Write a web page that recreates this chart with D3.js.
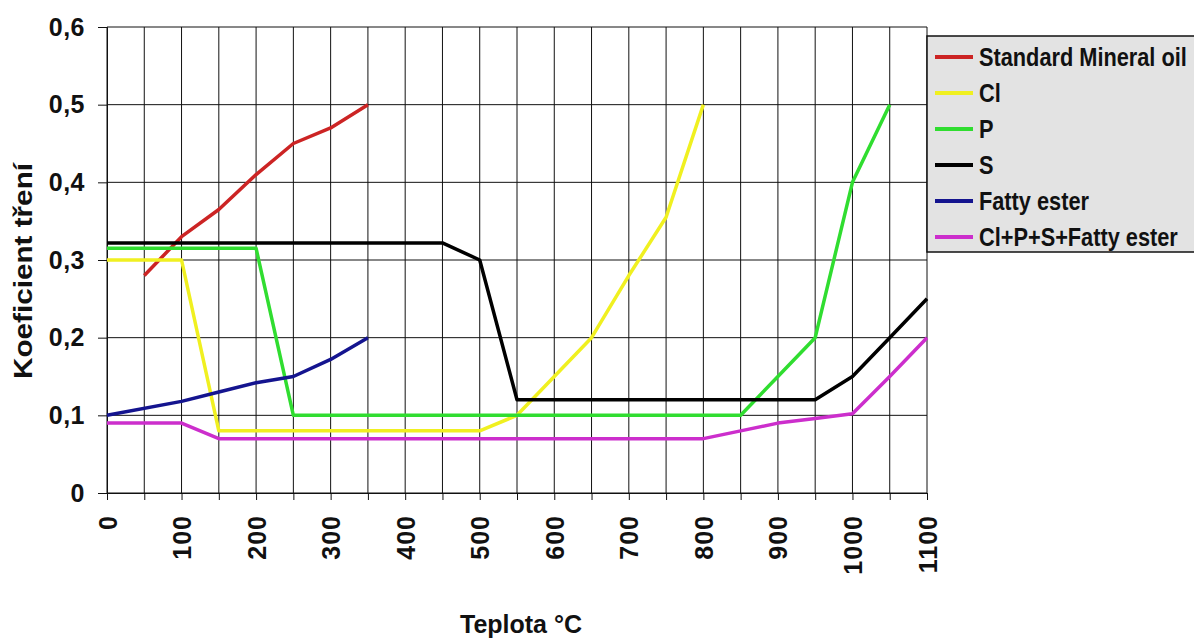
<!DOCTYPE html>
<html>
<head>
<meta charset="utf-8">
<script src="https://cdn.jsdelivr.net/npm/d3@7"></script>
<style>
  body { margin: 0; background: #fff; }
  text { font-family: "Liberation Sans", Arial, sans-serif; font-weight: bold; fill: #111; }
</style>
</head>
<body>
<div id="chart"></div>
<script>
// series data: [temperature °C, friction coefficient]
const mineralOil = [[50,0.28],[100,0.33],[150,0.365],[200,0.41],[250,0.45],[300,0.47],[350,0.5]];
const chlorine   = [[0,0.3],[100,0.3],[150,0.08],[500,0.08],[550,0.1],[600,0.15],[650,0.2],[700,0.28],[750,0.355],[800,0.5]];
const phosphorus = [[0,0.315],[200,0.315],[250,0.1],[850,0.1],[900,0.15],[950,0.2],[1000,0.4],[1050,0.5]];
const sulphur    = [[0,0.322],[450,0.322],[500,0.3],[550,0.12],[950,0.12],[1000,0.15],[1050,0.2],[1100,0.25]];
const fattyEster = [[0,0.1],[100,0.118],[150,0.13],[200,0.142],[250,0.15],[300,0.172],[350,0.2]];
const combined   = [[0,0.09],[100,0.09],[150,0.07],[800,0.07],[850,0.08],[900,0.09],[950,0.096],[1000,0.102],[1050,0.15],[1100,0.2]];

const seriesNames = ["Standard Mineral oil","Cl","P","S","Fatty ester","Cl+P+S+Fatty ester"];
const seriesColors = ["#cc2424","#f0f020","#30dd30","#000000","#14148f","#cc2ecc"];
const seriesData = [mineralOil, chlorine, phosphorus, sulphur, fattyEster, combined];

const xTicks = [0,100,200,300,400,500,600,700,800,900,1000,1100];
const xGrid = d3.range(0, 1101, 50);
const yTicks = [0,0.1,0.2,0.3,0.4,0.5,0.6];

const W = 1194, H = 639;
const margin = {top: 27, left: 107};
const width = 820, height = 466;

let svg = d3.select('#chart').append('svg')
  .attr('width', W).attr('height', H);

let g = svg.append('g')
  .attr('transform', `translate(${margin.left},${margin.top})`);

let x = d3.scaleLinear().domain([0,1100]).range([0,width]);
let y = d3.scaleLinear().domain([0,0.6]).range([height,0]);

//Grid lines
g.append('g').selectAll('line.vg')
  .data(xGrid).enter().append('line')
  .attr('x1', d => x(d)).attr('x2', d => x(d))
  .attr('y1', 0).attr('y2', height)
  .attr('stroke', '#111').attr('stroke-width', 1);

g.append('g').selectAll('line.hg')
  .data(yTicks).enter().append('line')
  .attr('x1', 0).attr('x2', width)
  .attr('y1', d => y(d)).attr('y2', d => y(d))
  .attr('stroke', '#111').attr('stroke-width', 1);

//Axis X
let xAxis = g.append('g')
  .attr('transform', `translate(0,${height})`)
  .call(d3.axisBottom(x).tickValues(xGrid).tickSize(7).tickFormat(d => xTicks.includes(d) ? d : ''));
xAxis.select('.domain').attr('stroke', '#111');
xAxis.selectAll('.tick line').attr('stroke', '#111');
xAxis.selectAll('.tick text')
  .attr('transform', 'rotate(-90)')
  .attr('x', -22).attr('y', 0).attr('dy', '0.36em')
  .attr('text-anchor', 'end')
  .style('font-size', '25px').style('font-family', '"Liberation Sans", Arial, sans-serif')
  .style('font-weight', 'bold').style('letter-spacing', '1px').attr('fill', '#111');

//Axis Y
let yAxis = g.append('g')
  .call(d3.axisLeft(y).tickValues(yTicks).tickSize(9).tickPadding(13)
    .tickFormat(d => d === 0 ? '0' : d3.format('.1f')(d).replace('.', ',')));
yAxis.select('.domain').attr('stroke', '#111');
yAxis.selectAll('.tick line').attr('stroke', '#111');
yAxis.selectAll('.tick text')
  .style('font-size', '25px').style('font-family', '"Liberation Sans", Arial, sans-serif')
  .style('font-weight', 'bold').style('letter-spacing', '0.5px').attr('fill', '#111');

//Lines
let line = d3.line().x(d => x(d[0])).y(d => y(d[1]));
seriesData.forEach((s, i) => {
  g.append('path')
    .attr('d', line(s))
    .attr('fill', 'none')
    .attr('stroke', seriesColors[i])
    .attr('stroke-width', 3.5)
    .attr('stroke-linejoin', 'round');
});

//Axis titles
svg.append('text')
  .attr('x', 521).attr('y', 633)
  .attr('text-anchor', 'middle')
  .style('font-size', '25px')
  .text('Teplota °C');

svg.append('text')
  .attr('transform', 'translate(32,271) rotate(-90)')
  .attr('text-anchor', 'middle')
  .attr('textLength', 216).attr('lengthAdjust', 'spacingAndGlyphs')
  .style('font-size', '26px')
  .text('Koeficient tření');

//Legend
let legend = svg.append('g').attr('transform', 'translate(927,36)');
legend.append('rect')
  .attr('x', 0).attr('y', 0).attr('width', 280).attr('height', 216)
  .attr('fill', '#e3e3e3').attr('stroke', '#111').attr('stroke-width', 1.5);

let items = legend.selectAll('.item')
  .data(seriesNames).enter().append('g')
  .attr('transform', (d, i) => `translate(0,${21 + i * 36})`);
items.append('line')
  .attr('x1', 8).attr('x2', 46).attr('y1', 0).attr('y2', 0)
  .attr('stroke', (d, i) => seriesColors[i]).attr('stroke-width', 4);
items.append('text')
  .attr('transform', 'translate(52,0) scale(0.87,1)')
  .attr('dy', '0.36em')
  .style('font-size', '25px')
  .text(d => d);
</script>
</body>
</html>
